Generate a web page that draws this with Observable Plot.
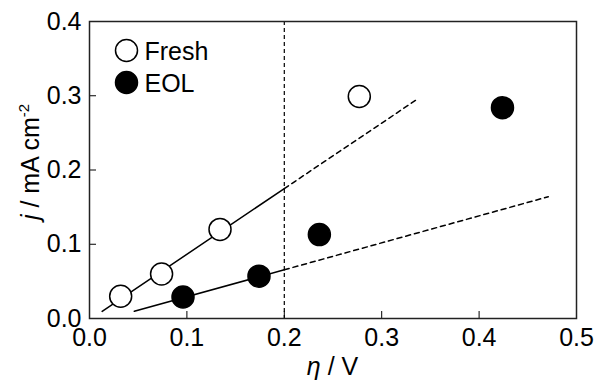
<!DOCTYPE html>
<html>
<head>
<meta charset="utf-8">
<script src="https://cdn.jsdelivr.net/npm/d3@7"></script>
<script src="https://cdn.jsdelivr.net/npm/@observablehq/plot@0.6"></script>
<style>
  body { margin: 0; background: #fff; }
  #chart svg { display: block; }
</style>
</head>
<body>
<div id="chart"></div>
<script>
// Measured current density vs. overpotential
const freshEta = [0.032, 0.074, 0.134, 0.277];
const freshJ   = [0.030, 0.060, 0.120, 0.299];
const eolEta   = [0.096, 0.174, 0.236, 0.424];
const eolJ     = [0.029, 0.057, 0.113, 0.284];

// Linear fits: solid up to the 0.2 V limit, dashed extrapolation beyond
const freshFitEta = [0.013, 0.2, 0.335];
const freshFitJ   = [0.0095, 0.175, 0.294];
const eolFitEta   = [0.046, 0.2, 0.471];
const eolFitJ     = [0.0098, 0.0656, 0.164];
const limitEta = 0.2;

const xTicks = [0, 0.1, 0.2, 0.3, 0.4, 0.5];
const yTicks = [0, 0.1, 0.2, 0.3, 0.4];
const seriesNames = ["Fresh", "EOL"];

const W = 603, H = 381;
const margin = {top: 21, right: 27, bottom: 63, left: 89};
const innerW = W - margin.left - margin.right;
const innerH = H - margin.top - margin.bottom;
const tickLen = 7;
const fs = 25;
const fmt = d3.format(".1f");

const pts = (xs, ys) => xs.map((x, i) => ({x, y: ys[i]}));
const fresh = pts(freshEta, freshJ);
const eol = pts(eolEta, eolJ);
const freshFit = pts(freshFitEta, freshFitJ);
const eolFit = pts(eolFitEta, eolFitJ);

const chart = Plot.plot({
  width: W,
  height: H,
  marginTop: margin.top,
  marginRight: margin.right,
  marginBottom: margin.bottom,
  marginLeft: margin.left,
  style: {fontFamily: "'Liberation Sans', Arial, sans-serif", fontSize: `${fs}px`, color: "#000", background: "#fff"},
  x: {domain: [0, 0.5]},
  y: {domain: [0, 0.4]},
  marks: [
    Plot.axisX(xTicks, {tickSize: 0, tickPadding: 10, tickFormat: fmt, label: null, fontSize: fs}),
    Plot.axisY(yTicks, {tickSize: 0, tickPadding: 8, tickFormat: fmt, label: null, fontSize: fs}),
    // inward ticks
    Plot.tickX(xTicks, {x: d => d, insetTop: innerH - tickLen, stroke: "#000", strokeWidth: 1}),
    Plot.tickY(yTicks, {y: d => d, insetRight: innerW - tickLen, stroke: "#000", strokeWidth: 1}),
    Plot.ruleX([limitEta], {stroke: "#000", strokeWidth: 1.2, strokeDasharray: "4,3"}),
    // fits
    Plot.line(freshFit.slice(0, 2), {x: "x", y: "y", stroke: "#000", strokeWidth: 1.5}),
    Plot.line(freshFit.slice(1), {x: "x", y: "y", stroke: "#000", strokeWidth: 1.5, strokeDasharray: "5,4"}),
    Plot.line(eolFit.slice(0, 2), {x: "x", y: "y", stroke: "#000", strokeWidth: 1.5}),
    Plot.line(eolFit.slice(1), {x: "x", y: "y", stroke: "#000", strokeWidth: 1.5, strokeDasharray: "5,4"}),
    // data
    Plot.dot(fresh, {x: "x", y: "y", r: 11, fill: "#fff", stroke: "#000", strokeWidth: 1.5}),
    Plot.dot(eol, {x: "x", y: "y", r: 11, fill: "#000", stroke: "#000", strokeWidth: 1.5}),
    // legend
    Plot.dot([seriesNames[0]], {frameAnchor: "top-left", dx: 37, dy: 29, r: 11, fill: "#fff", stroke: "#000", strokeWidth: 1.5}),
    Plot.dot([seriesNames[1]], {frameAnchor: "top-left", dx: 37, dy: 61, r: 11, fill: "#000", stroke: "#000", strokeWidth: 1.5}),
    Plot.text([seriesNames[0]], {text: d => d, frameAnchor: "top-left", lineAnchor: "middle", dx: 55, dy: 30, textAnchor: "start", fontSize: fs, fill: "#000"}),
    Plot.text([seriesNames[1]], {text: d => d, frameAnchor: "top-left", lineAnchor: "middle", dx: 55, dy: 62, textAnchor: "start", fontSize: fs, fill: "#000"}),
    Plot.frame({stroke: "#222", strokeWidth: 1.5})
  ]
});

// axis titles with italic symbols and superscript
const svg = d3.select(chart);
const xTitle = svg.append("text")
  .attr("x", margin.left + innerW / 2)
  .attr("y", 375)
  .attr("text-anchor", "middle")
  .attr("font-size", fs)
  .attr("fill", "#000");
xTitle.append("tspan").attr("font-style", "italic").text("η");
xTitle.append("tspan").text(" / V");

const yTitle = svg.append("text")
  .attr("transform", `translate(39,162) rotate(-90)`)
  .attr("text-anchor", "middle")
  .attr("font-size", fs)
  .attr("fill", "#000");
yTitle.append("tspan").attr("font-style", "italic").text("j");
yTitle.append("tspan").text(" / mA cm");
yTitle.append("tspan").attr("font-size", 15).attr("dy", -10).text("-2");

document.getElementById("chart").append(chart);
</script>
</body>
</html>
